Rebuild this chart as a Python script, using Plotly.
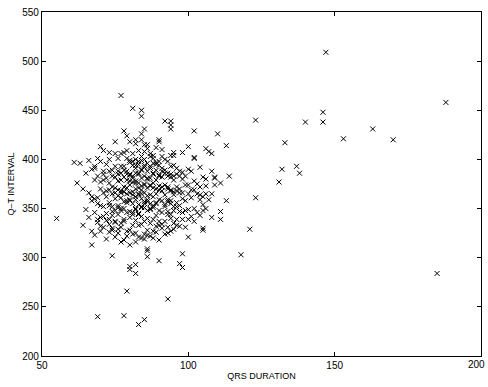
import plotly.graph_objects as go

# ---- data ----
# dense core, grouped by QRS duration value
core_cols = {
    64: [333, 370],
    65: [349, 386],
    66: [341, 366, 399],
    67: [327, 358, 362, 390],
    68: [323, 346, 360, 379, 393],
    69: [336, 355, 361, 383, 401],
    70: [327, 341, 353, 370, 377, 398],
    71: [331, 342, 352, 366, 379, 385],
    72: [319, 338, 345, 362, 368, 381, 395],
    73: [334, 339, 353, 356, 369, 376, 388, 400],
    74: [328, 343, 347, 352, 365, 372, 383, 389],
    75: [321, 336, 337, 348, 360, 366, 371, 382, 393],
    76: [325, 329, 344, 351, 353, 363, 369, 378, 385, 388, 401],
    77: [316, 331, 335, 348, 350, 361, 366, 368, 379, 386, 393, 406],
    78: [318, 337, 339, 350, 357, 367, 372, 382, 389, 393, 407],
    79: [322, 327, 346, 356, 358, 365, 371, 379, 385, 388, 401, 409],
    80: [313, 328, 341, 347, 358, 359, 366, 374, 378, 384, 385, 397, 399],
    81: [324, 333, 344, 346, 355, 364, 367, 377, 381, 383, 394, 398, 406],
    82: [316, 325, 338, 349, 350, 359, 362, 370, 376, 378, 386, 391, 394, 400],
    83: [321, 333, 344, 345, 354, 364, 365, 371, 376, 385, 386, 395, 398, 409],
    84: [320, 334, 342, 351, 352, 360, 365, 369, 373, 381, 389, 390, 399, 403],
    85: [319, 324, 337, 351, 355, 357, 366, 374, 375, 383, 392, 394, 400],
    86: [323, 328, 340, 348, 357, 359, 363, 371, 380, 381, 388, 396, 411],
    87: [322, 335, 349, 350, 355, 364, 373, 374, 381, 391, 393, 403],
    88: [320, 327, 339, 351, 353, 362, 371, 376, 385, 386, 396, 401],
    89: [326, 332, 343, 355, 356, 365, 370, 379, 389, 395, 397],
    90: [318, 333, 337, 348, 359, 369, 373, 383, 384, 394, 398],
    91: [330, 334, 346, 358, 368, 372, 382, 388, 391, 403],
    92: [324, 337, 352, 354, 364, 374, 386, 389, 400],
    93: [325, 331, 344, 347, 357, 359, 370, 372, 383, 386, 398],
    94: [327, 340, 344, 355, 358, 368, 369, 382, 385, 393],
    95: [329, 335, 348, 352, 364, 367, 379, 383, 394],
    96: [333, 339, 352, 356, 368, 372, 385, 391],
    97: [332, 347, 353, 366, 370, 383, 388],
    98: [339, 346, 360, 366, 380, 387],
    99: [331, 348, 358, 374, 383],
    100: [339, 349, 365, 374, 390],
    101: [342, 361, 369, 388],
    102: [337, 350, 369, 378],
    103: [346, 365, 375],
    104: [343, 364, 392],
    105: [348, 382],
    106: [350, 373],
}
core_qrs = []
core_qt = []
for q, vals in core_cols.items():
    for v in vals:
        core_qrs.append(q)
        core_qt.append(v)

# scattered points around the core
outer_qrs = [77, 81, 84, 84, 92, 94, 94, 94, 78, 84, 85, 102, 79, 80, 75, 82, 82,
             70, 71, 73, 75, 61, 63, 68, 62, 102, 106, 110, 84, 86, 85, 90, 90, 89,
             91, 85, 87, 88, 95, 94, 95, 98, 100, 102, 107, 108, 71, 108, 109, 111,
             113, 147, 146, 146, 140, 123, 163, 153, 170, 133, 132, 137, 138, 131,
             123, 188, 185, 118, 121, 113, 111, 111, 108, 105, 105, 104, 107, 105,
             106, 108, 104, 109, 106, 109, 114, 55, 67, 74, 86, 86, 86, 82, 80, 80,
             82, 90, 98, 97, 98, 79, 93, 69, 78, 83, 85, 100, 105, 69, 70, 73, 74]
outer_qt = [465, 452, 450, 444, 439, 439, 435, 431, 429, 426, 431, 429, 424, 418, 418,
            420, 416, 413, 409, 407, 406, 397, 396, 391, 376, 402, 411, 426, 420, 415,
            415, 420, 418, 412, 410, 408, 406, 404, 407, 404, 404, 407, 413, 401, 408,
            406, 388, 388, 381, 376, 414, 509, 448, 438, 438, 440, 431, 421, 420, 417,
            390, 393, 386, 377, 361, 458, 284, 303, 329, 358, 347, 339, 341, 328, 354,
            359, 359, 362, 365, 365, 372, 374, 380, 382, 383, 340, 313, 302, 309, 307,
            301, 293, 291, 288, 284, 297, 304, 294, 290, 266, 258, 240, 241, 232, 237,
            321, 330, 339, 332, 326, 330]

qrs_duration = core_qrs + outer_qrs
qt_interval = core_qt + outer_qt

x_ticks = [50, 100, 150, 200]
y_ticks = [200, 250, 300, 350, 400, 450, 500, 550]

FONT = "Liberation Sans, Arial, Helvetica, sans-serif"

fig = go.Figure(
    go.Scatter(
        x=qrs_duration,
        y=qt_interval,
        mode="markers",
        marker=dict(symbol="x-thin", size=5, color="black",
                    line=dict(width=1, color="black")),
        hoverinfo="x+y",
    )
)

axis_common = dict(
    showgrid=False,
    zeroline=False,
    showline=True,
    linecolor="black",
    linewidth=1.2,
    mirror="ticks",
    ticks="inside",
    ticklen=4,
    tickwidth=1,
    tickcolor="black",
    tickfont=dict(family=FONT, size=10, color="black"),
)

fig.update_layout(
    width=488,
    height=387,
    margin=dict(l=42, r=6, t=9, b=31),
    paper_bgcolor="white",
    plot_bgcolor="white",
    showlegend=False,
    xaxis=dict(
        range=[50, 200],
        tickvals=x_ticks,
        ticktext=[str(v) if v != 200 else "" for v in x_ticks],
        title=dict(text="QRS DURATION", font=dict(family=FONT, size=9, color="black"),
                   standoff=2),
        **axis_common,
    ),
    yaxis=dict(
        range=[200, 550],
        tickvals=y_ticks,
        title=dict(text="Q–T INTERVAL", font=dict(family=FONT, size=9, color="black"),
                   standoff=6),
        **axis_common,
    ),
    annotations=[
        dict(x=x_ticks[-1], y=0, xref="x", yref="paper", text=str(x_ticks[-1]),
             showarrow=False, xanchor="center", yanchor="top", yshift=-1, xshift=-5,
             font=dict(family=FONT, size=10, color="black"))
    ],
)

fig.write_html("out.html")
